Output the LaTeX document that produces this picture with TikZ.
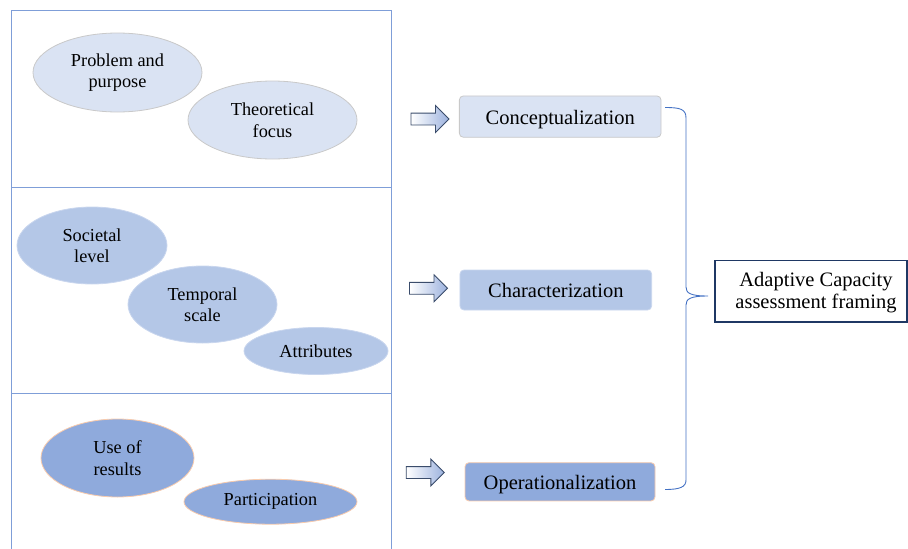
\documentclass[tikz,border=0pt]{standalone}
\usepackage{fontspec}
\setmainfont{Liberation Serif}
\usetikzlibrary{shapes.geometric,shapes.arrows}
\definecolor{cLight}{HTML}{DAE3F3}
\definecolor{cMid}{HTML}{B4C7E7}
\definecolor{cDark}{HTML}{8FAADC}
\definecolor{bGray}{HTML}{C9C9C9}
\definecolor{bMid}{HTML}{C9D6EE}
\definecolor{bOrange}{HTML}{F8CBAD}
\definecolor{panelLine}{HTML}{7F9ED8}
\definecolor{braceCol}{HTML}{4472C4}
\definecolor{navy}{HTML}{1F3864}
\definecolor{arrowEdge}{HTML}{3A4C6B}
\definecolor{arrowFill}{HTML}{9CB2DE}
\begin{document}
\begin{tikzpicture}[x=1pt,y=-1pt,
 panel/.style={draw=panelLine, line width=1pt, rectangle, inner sep=0pt},
 oval/.style={ellipse, inner sep=0pt, align=center, font=\fontsize{18.3}{21.5}\selectfont, line width=0.8pt},
 ovl/.style={oval, fill=cLight, draw=bGray},
 ovm/.style={oval, fill=cMid, draw=bMid},
 ovd/.style={oval, fill=cDark, draw=bOrange},
 stage/.style={rectangle, rounded corners=4pt, inner sep=0pt, text height=15pt, text depth=0pt, font=\fontsize{20.5}{24}\selectfont, line width=0.8pt},
 blockarrow/.style={single arrow, draw=arrowEdge, line width=0.9pt, left color=white, right color=arrowFill, minimum height=38pt, minimum width=26pt, single arrow head extend=7.5pt, inner sep=0pt}
]
\useasboundingbox (0,0) rectangle (908,549);
% panels
\node[panel, minimum width=380pt, minimum height=177pt] (p1) at (201,98.5) {};
\node[panel, minimum width=380pt, minimum height=206pt] (p2) at (201,290) {};
\node[panel, minimum width=380pt, minimum height=162pt] (p3) at (201,474) {};
% ellipses
\node[ovl, minimum width=169pt, minimum height=79pt] (e1) at (117.5,72.5) {Problem and\\purpose};
\node[ovl, minimum width=169pt, minimum height=78pt] (e2) at (272.5,120) {Theoretical\\focus};
\node[ovm, minimum width=150pt, minimum height=77pt] (e3) at (92,245.5) {Societal\\level};
\node[ovm, minimum width=149pt, minimum height=77pt] (e4) at (202.5,304.5) {Temporal\\scale};
\node[ovm, minimum width=144pt, minimum height=47pt] (e5) at (316,351) {Attributes};
\node[ovd, minimum width=153pt, minimum height=78pt] (e6) at (117.5,458) {Use of\\results};
\node[ovd, minimum width=173pt, minimum height=45pt] (e7) at (270.5,501.7) {Participation};
% arrows
\node[blockarrow] (a1) at (427,119) {\rule{0pt}{11pt}};
\node[blockarrow] (a2) at (425.5,288.3) {\rule{0pt}{11pt}};
\node[blockarrow] (a3) at (422.3,472.5) {\rule{0pt}{11pt}};
% stages
\node[stage, fill=cLight, draw=bGray, minimum width=201.7pt, minimum height=41.3pt] (s1) at (560.2,116.6) {Conceptualization};
\node[stage, fill=cMid, draw=bMid, minimum width=191.7pt, minimum height=40pt] (s2) at (555.8,290) {Characterization};
\node[stage, fill=cDark, draw=bOrange, minimum width=190pt, minimum height=38.3pt] (s3) at (560,481.8) {Operationalization};
% final box
\node[rectangle, draw=navy, line width=1.3pt, minimum width=192pt, minimum height=61.3pt, inner sep=0pt] (ac) at (811,291.3) {};
\node[align=center, inner sep=0pt, font=\fontsize{20.5}{21.5}\selectfont] (act) at (816,292.5) {Adaptive Capacity\\assessment framing};
% brace
\coordinate (bt) at (665,107.5);
\coordinate (bb) at (665,489.5);
\coordinate (btip) at (708,296);
\draw[braceCol, line width=0.9pt] (bt) .. controls (680,107.5) and (686,109) .. (686,118) -- (686,287)
  .. controls (686,293) and (690,296) .. (btip)
  .. controls (690,296) and (686,299) .. (686,305) -- (686,480)
  .. controls (686,487) and (680,489.5) .. (bb);
\end{tikzpicture}
\end{document}
